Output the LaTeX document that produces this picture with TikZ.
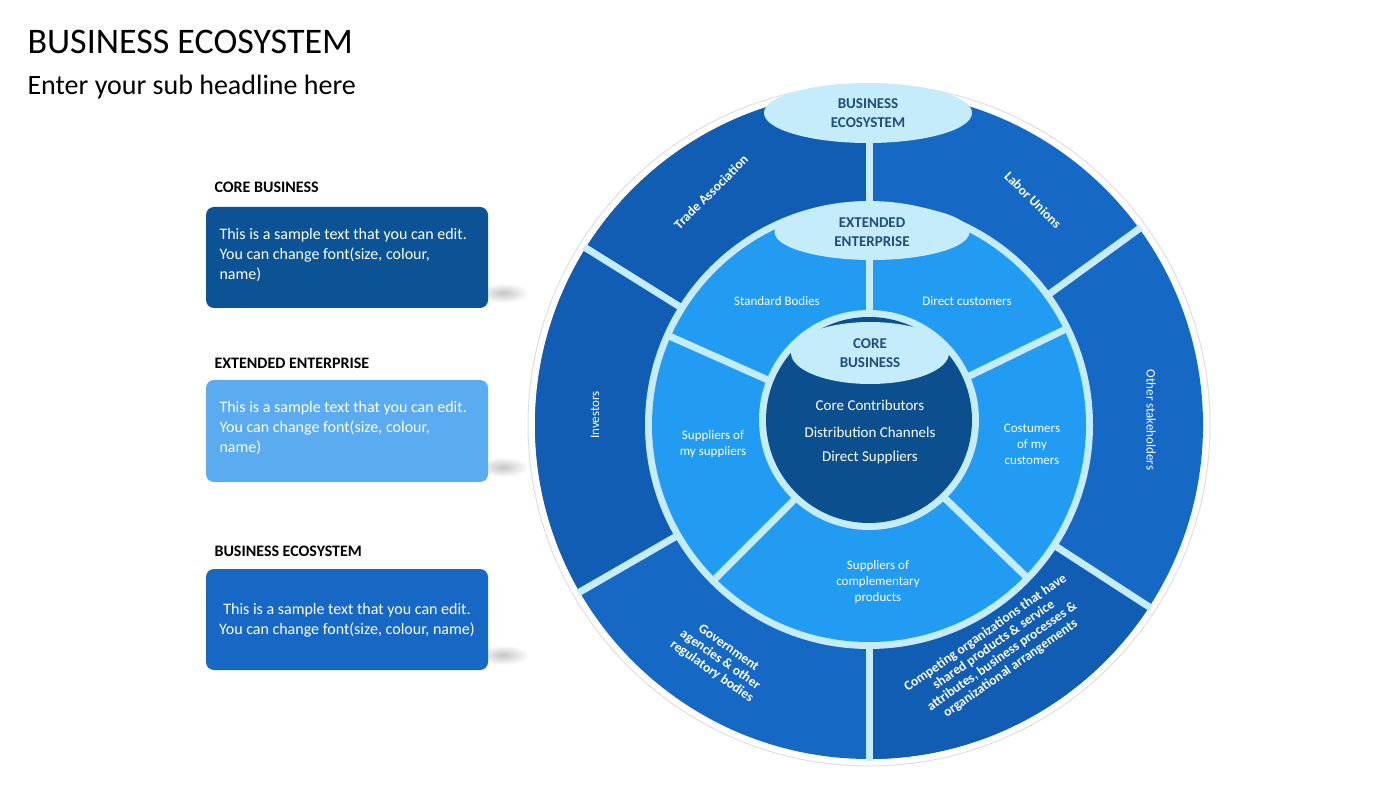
\documentclass[tikz,border=0pt]{standalone}
\usepackage{fontspec}
\setmainfont{Carlito}
\usetikzlibrary{shapes.geometric}
\begin{document}
\begin{tikzpicture}[x=1pt,y=1pt,
  sep/.style={draw=lb,line width=7pt},
  wt/.style={text=white,font=\fontsize{13}{16}\selectfont,align=center},
  ot/.style={text=white,font=\bfseries\fontsize{13.5}{14.5}\selectfont,align=center},
  lab/.style={ellipse,fill=lb,text=tdark,font=\bfseries\fontsize{15}{19}\selectfont,align=center,inner sep=0pt},
  hdr/.style={anchor=west,font=\bfseries\fontsize{16}{18}\selectfont},
  box/.style={rounded corners=8pt},
  btxt/.style={text=white,font=\fontsize{16}{20}\selectfont}]
\definecolor{lb}{HTML}{C5ECFB}
\definecolor{tdark}{HTML}{1F4E79}
\definecolor{oc}{HTML}{1569C4}
\definecolor{ocd}{HTML}{115DB3}
\definecolor{mc}{HTML}{229CF2}
\definecolor{cc}{HTML}{0C4F8E}
\definecolor{b1}{HTML}{0B5394}
\definecolor{b2}{HTML}{5AABF0}
\definecolor{b3}{HTML}{1668C4}
\useasboundingbox (0,0) rectangle (1400,788);
\fill[white] (0,0) rectangle (1400,788);
% titles
\node[anchor=west,font=\fontsize{36}{38}\selectfont] (t) at (24,746) {BUSINESS ECOSYSTEM};
\node[anchor=west,font=\fontsize{28}{30}\selectfont] (st) at (24,701) {Enter your sub headline here};
% headers
\node[hdr] (h1) at (211,601) {CORE BUSINESS};
\node[hdr] (h2) at (211,425) {EXTENDED ENTERPRISE};
\node[hdr] (h3) at (211,237) {BUSINESS ECOSYSTEM};
% shadows
\foreach \yy in {495,321,133}{
  \shade[inner color=gray!45,outer color=white] (503,\yy) ellipse (26 and 10);}
% boxes
\fill[box,b1] (206,480) rectangle (488,581);
\fill[box,b2] (206,306) rectangle (488,408);
\fill[box,b3] (206,118) rectangle (488,219);
\node[btxt,anchor=north west,align=left] (bt1) at (216,563) {This is a sample text that you can edit.\\You can change font(size, colour,\\name)};
\node[btxt,anchor=north west,align=left] (bt2) at (216,390) {This is a sample text that you can edit.\\You can change font(size, colour,\\name)};
\node[btxt,align=center] (bt3) at (347,168) {This is a sample text that you can edit.\\You can change font(size, colour, name)};
% circle
\begin{scope}[shift={(869,363)}]
  \fill[white,draw=gray!25,line width=1pt] (0,0) circle (341);
  \fill[oc] (0,0) circle (334);
  \fill[ocd] (90:334) arc (90:148:334) -- (0,0) -- cycle;
  \fill[ocd] (148:334) arc (148:210:334) -- (0,0) -- cycle;
  \fill[ocd] (270:334) arc (270:327:334) -- (0,0) -- cycle;
  \fill[lb] (0,0) circle (224);
  \fill[mc] (0,0) circle (217);
  \foreach \a in {90,36,148,210,270,327}{\draw[sep] (\a:220) -- (\a:336);}
  \foreach \a in {90,26,156,225,316}{\draw[sep] (\a:100) -- (\a:221);}
  \fill[lb] (0,5) circle (110);
  \fill[cc] (0,5) circle (103);
\end{scope}
% labels
\node[lab,minimum width=208,minimum height=60] (e1) at (868,675) {BUSINESS\\ECOSYSTEM};
\node[lab,minimum width=195,minimum height=56] (e2) at (872,556) {EXTENDED\\ENTERPRISE};
\node[lab,minimum width=158,minimum height=62] (e3) at (870,435) {CORE\\BUSINESS};
% core text
\node[wt,font=\fontsize{15}{17}\selectfont] (c1) at (870,383) {Core Contributors};
\node[wt,font=\fontsize{15}{17}\selectfont] (c2) at (870,356) {Distribution Channels};
\node[wt,font=\fontsize{15}{17}\selectfont] (c3) at (870,330) {Direct Suppliers};
% middle ring
\node[wt] (m1) at (777,487) {Standard Bodies};
\node[wt] (m2) at (967,487) {Direct customers};
\node[wt] (m3) at (713,344) {Suppliers of\\my suppliers};
\node[wt] (m4) at (1032,344) {Costumers\\of my\\customers};
\node[wt] (m5) at (878,206) {Suppliers of\\complementary\\products};
% outer ring
\node[ot,rotate=45] (o1) at (711,596) {Trade Association};
\node[ot,rotate=-45] (o2) at (1033,588) {Labor Unions};
\node[wt,rotate=90] (o3) at (595,373) {Investors};
\node[wt,rotate=-90] (o4) at (1151,368) {Other stakeholders};
\node[ot,rotate=-35] (o5) at (720,128) {Government\\agencies \& other\\regulatory bodies};
\node[ot,rotate=35] (o6) at (998,137) {Competing organizations that have\\shared products \& service\\attributes, business processes \&\\organizational arrangements};
\end{tikzpicture}
\end{document}
